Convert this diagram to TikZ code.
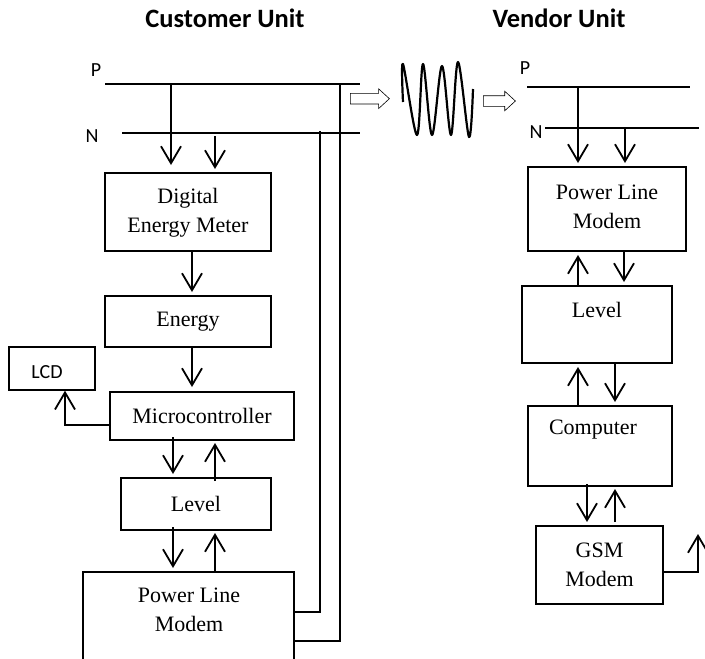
\documentclass[tikz,border=0pt]{standalone}
\usepackage{fontspec}
\setmainfont{Liberation Serif}
\newfontfamily\labelfont{Carlito}
\usepackage{tikz}
\usetikzlibrary{arrows.meta,shapes.arrows}

\begin{document}
\begin{tikzpicture}[
  x=1pt,
  y=-1pt,
  box/.style={draw=black, line width=1.4pt, inner sep=0pt, align=center, font=\fontsize{22}{29}\selectfont},
  boxtext/.style={inner sep=0pt, align=center, font=\fontsize{22}{29}\selectfont},
  busline/.style={line width=1.4pt},
  arrow/.style={-{Straight Barb[length=17pt,width=20pt,line width=1.8pt]}, line width=1.8pt},
  tag/.style={inner sep=0pt, font=\fontsize{20}{22}\labelfont},
  heading/.style={inner sep=0pt, font=\fontsize{26.5}{28}\labelfont\bfseries},
  hollow/.style={single arrow, draw=black, line width=0.6pt, inner sep=0pt, single arrow head extend=4.5pt, single arrow tip angle=85, minimum height=#1, minimum width=19pt}
]
  \useasboundingbox (0,0) rectangle (705,659);

  \node[heading] (customer) at (225,18) {Customer Unit};
  \node[heading] (vendor) at (559,18) {Vendor Unit};

  % customer side
  \node[tag] (custp) at (96,70) {P};
  \node[tag] (custn) at (92,136) {N};
  \coordinate (custpl) at (105,84);
  \coordinate (custpr) at (360,84);
  \coordinate (custnl) at (122,133);
  \coordinate (custnr) at (360,133);
  \draw[busline] (custpl) -- (custpr);
  \draw[busline] (custnl) -- (custnr);

  \node[box, minimum width=166pt, minimum height=78pt] (meter) at (188,212) {};
  \node[boxtext] (metertext) at (188,213) {Digital\\Energy Meter};
  \node[box, minimum width=166pt, minimum height=51pt] (energy) at (188,321.5) {Energy};
  \node[box, minimum width=86pt, minimum height=43pt] (lcd) at (52,368.5) {};
  \node[tag] (lcdtext) at (47,372) {LCD};
  \node[box, minimum width=184pt, minimum height=48pt] (micro) at (202,416) {Microcontroller};
  \node[box, minimum width=150pt, minimum height=52pt] (level) at (196,504) {Level};
  \node[box, minimum width=211pt, minimum height=93pt] (plm) at (188.5,618.5) {};
  \node[boxtext] (plmtext) at (189,610) {Power Line\\Modem};

  \draw[arrow] (171,84) -- (171,165);
  \draw[arrow] (215,136) -- (215,169);
  \draw[arrow] (192,251) -- (192,292);
  \draw[arrow] (192,347) -- (192,387);
  \draw[arrow] (micro.west |- 0,425) -| (lcd.south -| 65,0);
  \draw[arrow] (173,437) -- (173,474);
  \draw[arrow] (215,481) -- (215,443);
  \draw[arrow] (173,527) -- (173,568);
  \draw[arrow] (215,572) -- (215,533);
  \draw[busline] (plm.east |- 0,612) -| (320,131);
  \draw[busline] (plm.east |- 0,641) -| (340,84);

  % link between the two units
  \node[hollow=39pt] (linka) at (367,98.7) {\rule{0pt}{10pt}};
  \node[hollow=32pt] (linkb) at (496.5,101) {\rule{0pt}{10pt}};
  \draw[line width=2.2pt, line join=round] plot[smooth, tension=0.55] coordinates {(403,102) (403,64) (417,135) (423,64) (432,135) (442,66) (451,135) (458,62) (469,137) (473,89)};

  % vendor side
  \node[tag] (vendp) at (525,68) {P};
  \node[tag] (vendn) at (536,132) {N};
  \coordinate (vendpl) at (527,87);
  \coordinate (vendpr) at (690,87);
  \coordinate (vendnl) at (545,128);
  \coordinate (vendnr) at (699,128);
  \draw[busline] (vendpl) -- (vendpr);
  \draw[busline] (vendnl) -- (vendnr);

  \node[box, minimum width=158pt, minimum height=84pt] (vplm) at (607,209) {};
  \node[boxtext] (vplmtext) at (607,207) {Power Line\\Modem};
  \node[box, minimum width=150pt, minimum height=77pt] (vlevel) at (597,324.5) {};
  \node[boxtext] (vleveltext) at (597,310) {Level};
  \node[box, minimum width=144pt, minimum height=80pt] (computer) at (600,446) {};
  \node[boxtext] (computertext) at (593,430) {Computer};
  \node[box, minimum width=127pt, minimum height=78pt] (gsm) at (599.5,565) {GSM\\Modem};
  \coordinate (gsmout) at (698,534);

  \draw[arrow] (578,87) -- (578,163);
  \draw[arrow] (625,128) -- (625,163);
  \draw[arrow] (624,251) -- (624,282);
  \draw[arrow] (578,286) -- (578,255);
  \draw[arrow] (615,363) -- (615,402);
  \draw[arrow] (578,406) -- (578,367);
  \draw[arrow] (587,484) -- (587,522);
  \draw[arrow] (615,522) -- (615,489);
  \draw[arrow] (gsm.east |- 0,572) -| (gsmout);
\end{tikzpicture}
\end{document}
